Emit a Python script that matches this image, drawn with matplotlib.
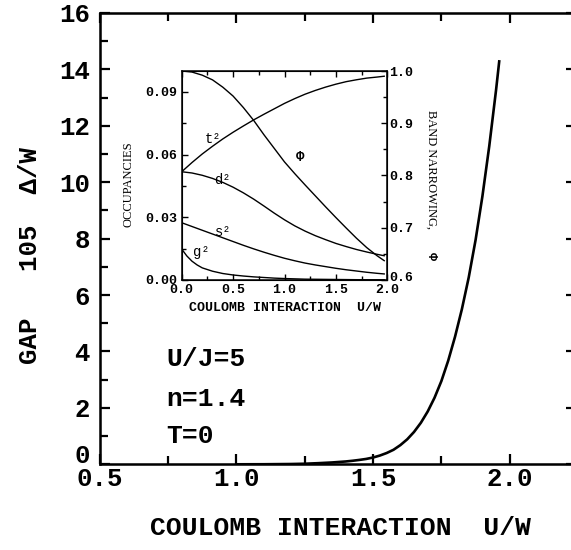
import matplotlib
matplotlib.use('Agg')
import matplotlib.pyplot as plt
from matplotlib.ticker import MultipleLocator, FormatStrFormatter
import matplotlib.transforms as mtrans

MONO = 'Liberation Mono'
SERIF = 'Liberation Serif'

# ---- main panel data: gap (10^5 Delta/W) vs U/W ----
u_gap = [1.00, 1.10, 1.20, 1.25, 1.30, 1.35, 1.40, 1.425, 1.45, 1.475, 1.50,
         1.525, 1.55, 1.575, 1.60, 1.625, 1.65, 1.675, 1.70, 1.725, 1.75,
         1.775, 1.80, 1.825, 1.85, 1.875, 1.90, 1.925, 1.95, 1.962]
gap = [0.0, 0.002, 0.01, 0.02, 0.04, 0.065, 0.10, 0.125, 0.155, 0.19, 0.24,
       0.31, 0.40, 0.515, 0.68, 0.885, 1.147, 1.472, 1.872, 2.36, 2.95,
       3.675, 4.525, 5.50, 6.625, 7.95, 9.50, 11.275, 13.275, 14.33]

# ---- inset data ----
u_in = [0.0, 0.1, 0.2, 0.3, 0.4, 0.5, 0.6, 0.7, 0.8, 0.9, 1.0, 1.1, 1.2, 1.3,
        1.4, 1.5, 1.6, 1.7, 1.8, 1.9, 1.97]
t2 = [0.0518, 0.0562, 0.0603, 0.0640, 0.0675, 0.0707, 0.0737, 0.0766, 0.0793,
      0.0819, 0.0845, 0.0868, 0.0889, 0.0907, 0.0923, 0.0937, 0.0949, 0.0958,
      0.0966, 0.0971, 0.0975]
d2 = [0.0518, 0.0512, 0.0501, 0.0486, 0.0467, 0.0444, 0.0417, 0.0387, 0.0354,
      0.0320, 0.0288, 0.0259, 0.0234, 0.0212, 0.0193, 0.0175, 0.0160, 0.0146,
      0.0134, 0.0123, 0.0116]
s2 = [0.0274, 0.0256, 0.0238, 0.0220, 0.0202, 0.0184, 0.0166, 0.0149, 0.0133,
      0.0118, 0.0104, 0.0092, 0.0081, 0.0072, 0.0064, 0.0056, 0.0049, 0.0043,
      0.0037, 0.0032, 0.0029]
phi = [1.0, 0.998, 0.992, 0.983, 0.969, 0.952, 0.930, 0.9055, 0.878, 0.852,
       0.826, 0.8035, 0.782, 0.761, 0.740, 0.7195, 0.6995, 0.680, 0.662,
       0.6465, 0.637]
u_g2 = [0.0, 0.05, 0.1, 0.15, 0.2, 0.3, 0.4, 0.5, 0.6, 0.7, 0.8, 0.9, 1.0, 1.2,
        1.4, 1.6, 1.8, 1.97]
g2 = [0.0148, 0.0115, 0.0090, 0.0072, 0.0058, 0.0042, 0.0031, 0.0024, 0.0019,
      0.0015, 0.0012, 0.0009, 0.0007, 0.0004, 0.0003, 0.0002, 0.0001, 0.0001]

main_xticks = [0.5, 1.0, 1.5, 2.0]
main_yticks = [0, 2, 4, 6, 8, 10, 12, 14, 16]

W, H = 571, 550
fig = plt.figure(figsize=(W / 100, H / 100), dpi=100)

# main axes (right edge slightly beyond the canvas, as in the reference)
L, R, T, B = 99.5, 576.0, 13.0, 464.3
ax = fig.add_axes([L / W, (H - B) / H, (R - L) / W, (B - T) / H])
ax.plot(u_gap, gap, color='black', lw=1.9, solid_capstyle='butt')
ax.set_xlim(0.5, 0.5 + (R - L) / 273.5)
ax.set_ylim(0, 16)
ax.set_xticks(main_xticks)
ax.set_yticks(main_yticks)
ax.xaxis.set_minor_locator(MultipleLocator(0.25))
ax.yaxis.set_minor_locator(MultipleLocator(1))
ax.xaxis.set_major_formatter(FormatStrFormatter('%.1f'))
for s in ax.spines.values():
    s.set_linewidth(1.8)
ax.tick_params(which='both', direction='in', width=1.6, top=True, right=False,
               labelsize=18.5)
ax.tick_params(which='major', length=7)
ax.tick_params(which='minor', length=6)
ax.tick_params(axis='x', pad=2)
ax.tick_params(axis='y', pad=7)
for lab in ax.get_xticklabels() + ax.get_yticklabels():
    lab.set_fontfamily(MONO)
    lab.set_fontweight('bold')
# lift the "0" y label a little, as in the reference
ylabs = ax.get_yticklabels()
ylabs[0].set_verticalalignment('bottom')
ylabs[0].set_transform(ylabs[0].get_transform() +
                       mtrans.ScaledTranslation(0, -4 / 100, fig.dpi_scale_trans))

# right-side inward ticks (major only)
axr_main = ax.twinx()
axr_main.set_ylim(0, 16)
axr_main.set_yticks(main_yticks)
axr_main.tick_params(direction='in', length=7, width=1.6, labelright=False)
axr_main.spines['right'].set_linewidth(1.8)

fig.text(340 / W, 1 - 528 / H, 'COULOMB INTERACTION  U/W', family=MONO,
         weight='bold', fontsize=19, ha='center', va='center')
fig.text(30 / W, 1 - 255 / H, 'GAP   105  \u0394/W', family=MONO,
         weight='bold', fontsize=18.5, ha='center', va='center', rotation=90)

for txt, yv in [('U/J=5', 3.72), ('n=1.4', 2.30), ('T=0', 0.99)]:
    ax.text(0.745, yv, txt, family=MONO, weight='bold', fontsize=19,
            ha='left', va='center')

# ---- inset ----
iL, iR, iT, iB = 181.7, 387.3, 71.0, 280.0
axi = fig.add_axes([iL / W, (H - iB) / H, (iR - iL) / W, (iB - iT) / H])
axi.plot(u_in, t2, color='black', lw=1.0)
axi.plot(u_in, d2, color='black', lw=1.0)
axi.plot(u_in, s2, color='black', lw=1.0)
axi.plot(u_g2, g2, color='black', lw=1.0)
axi.set_xlim(0, 2)
axi.set_ylim(0, 0.1)
axi.xaxis.set_major_locator(MultipleLocator(0.5))
axi.xaxis.set_minor_locator(MultipleLocator(0.25))
axi.yaxis.set_major_locator(MultipleLocator(0.03))
axi.yaxis.set_minor_locator(MultipleLocator(0.015))
axi.xaxis.set_major_formatter(FormatStrFormatter('%.1f'))
axi.yaxis.set_major_formatter(FormatStrFormatter('%.2f'))
axi.tick_params(which='both', direction='in', width=1.0, top=True, right=False,
                labelsize=9.5, pad=3)
axi.tick_params(which='major', length=4)
axi.tick_params(which='minor', length=3)
for s in axi.spines.values():
    s.set_linewidth(1.1)

axp = axi.twinx()
axp.plot(u_in, phi, color='black', lw=1.0)
axp.set_ylim(0.6, 1.0)
axp.yaxis.set_major_locator(MultipleLocator(0.1))
axp.yaxis.set_minor_locator(MultipleLocator(0.05))
axp.yaxis.set_major_formatter(FormatStrFormatter('%.1f'))
axp.tick_params(which='both', direction='in', width=1.0, labelsize=9.5, pad=1.5)
axp.tick_params(which='major', length=4)
axp.tick_params(which='minor', length=3)

for a in (axi, axp):
    for lab in a.get_xticklabels() + a.get_yticklabels():
        lab.set_fontfamily(MONO)
        lab.set_fontweight('bold')

# the bottom right label sits slightly raised in the reference
fig.canvas.draw()
for lab in axp.get_yticklabels():
    if lab.get_text() == '0.6':
        lab.set_transform(lab.get_transform() +
                          mtrans.ScaledTranslation(0, 3 / 100, fig.dpi_scale_trans))

axi.text(0.502, -0.134, 'COULOMB INTERACTION  U/W', transform=axi.transAxes,
         family=MONO, fontsize=9.5, weight='bold', ha='center', va='center')
axi.text(-0.261, 0.459, 'OCCUPANCIES', transform=axi.transAxes, family=SERIF,
         fontsize=9, ha='center', va='center', rotation=90)
axi.text(1.213, 0.813, 'BAND NARROWING,', transform=axi.transAxes, family=SERIF,
         fontsize=9, ha='center', va='top', rotation=270)
axi.text(1.213, 0.115, '\u03a6', transform=axi.transAxes, family=MONO,
         fontsize=9.5, weight='bold', ha='center', va='center', rotation=270)

for lab, xv, yv in [('t\u00b2', 0.31, 0.0675), ('d\u00b2', 0.40, 0.048),
                    ('s\u00b2', 0.40, 0.023), ('g\u00b2', 0.19, 0.0135),
                    ('\u03a6', 1.15, 0.0587)]:
    axi.text(xv, yv, lab, family=MONO, fontsize=10,
             weight='bold' if lab == '\u03a6' else 'normal',
             ha='center', va='center')

fig.savefig('out.png', dpi=100)
